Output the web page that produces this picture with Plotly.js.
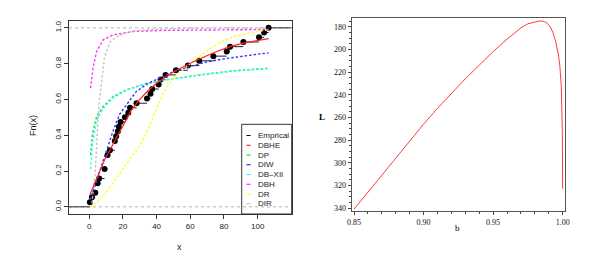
<!DOCTYPE html>
<html><head><meta charset="utf-8">
<script src="https://cdn.plot.ly/plotly-3.0.1.min.js"></script>
<style>html,body{margin:0;padding:0;background:#fff}#chart{width:603px;height:257px}</style>
</head><body><div id="chart"></div>
<script>
// ---- Left panel: empirical CDF and fitted CDFs ----
const ecdfX = [0.4,1.6,3.6,5.0,5.9,9.1,10.9,12.3,15.2,16.0,17.0,17.6,18.6,21.2,23.2,24.2,28.1,34.3,36.4,37.4,41.2,42.4,45.3,51.5,58.6,65.3,73.7,81.6,83.6,91.5,100.8,103.8,106.5];
const ecdfY = [0.026,0.053,0.079,0.132,0.158,0.211,0.289,0.316,0.368,0.395,0.421,0.447,0.474,0.5,0.526,0.553,0.579,0.605,0.632,0.658,0.684,0.711,0.737,0.763,0.789,0.816,0.842,0.868,0.895,0.921,0.947,0.974,1.0];

const dbheX = [0.4,3.6,6,9,12.4,16,20,25,30,35,40,45,50,58.6,65,75,83.5,91.5,100,106.5];
const dbheY = [0.067,0.14,0.2,0.26,0.318,0.385,0.45,0.54,0.6,0.65,0.69,0.725,0.755,0.795,0.825,0.865,0.895,0.915,0.93,0.94];

const dpX = [0.8,2,4.4,8.3,14.3,22.2,34,46,66,85.5,106.5];
const dpY = [0.29,0.41,0.505,0.56,0.616,0.654,0.69,0.71,0.737,0.76,0.774];

const diwX = [0.4,3.6,6.3,10.3,14,18.2,23.2,28,35,42,50,60,70,80,90,100,106.5];
const diwY = [0.04,0.12,0.2,0.318,0.42,0.52,0.585,0.645,0.69,0.72,0.755,0.785,0.81,0.827,0.842,0.853,0.86];

const dbxiiX = [0.8,2,4.4,8.3,14.3,22.2,34,46,66,85.5,106.5];
const dbxiiY = [0.21,0.36,0.48,0.55,0.61,0.652,0.688,0.71,0.738,0.758,0.773];

const dbhX = [0.8,2.4,4.4,8.3,14.3,26,46,66,86,106.5];
const dbhY = [0.663,0.784,0.868,0.933,0.961,0.98,0.986,0.989,0.99,0.991];

const drX = [0.4,2,5,10,17,22,27,32,36,40,44,50,58.6,65,72,78,85,95,106.5];
const drY = [0,0.005,0.03,0.08,0.17,0.24,0.3,0.374,0.458,0.55,0.64,0.72,0.79,0.84,0.885,0.92,0.948,0.972,0.99];

const dirX = [1.6,3.6,5,5.9,9.1,12.3,16,21,28,40,60,106.5];
const dirY = [0.02,0.2,0.45,0.58,0.84,0.92,0.95,0.97,0.985,0.993,0.998,1.0];

const legendLabels = ["Emprical","DBHE","DP","DIW","DB\u2013XII","DBH","DR","DIR"];
const legendColors = ["#000000","#ff0000","#00cd00","#0000ff","#00ffff","#ff00ff","#ffff00","#bebebe"];

const xTicksL = [0,20,40,60,80,100];
const yTicksL = [0.0,0.2,0.4,0.6,0.8,1.0];

// ---- Right panel: profile curve ----
const bX = [0.85,0.86,0.87,0.88,0.89,0.90,0.91,0.92,0.93,0.94,0.95,0.96,0.97,0.975,0.98,0.983,0.985,0.987,0.989,0.991,0.993,0.995,0.997,0.998,0.999,0.9995,0.9998,1.0];
const bL = [341,326,310,295,280,266,252,239,226,214,202,191,181,177.5,175.5,175,175,175.5,177,180,185,193,205,215,232,250,275,323];
const xTicksR = [0.85,0.90,0.95,1.00];
const yTicksR = [180,200,220,240,260,280,300,320,340];

// ---- geometry (pixels -> paper) ----
const W = 603, H = 257;
const px = v => v / W, py = v => 1 - v / H;
const xRangeL = [-12, 120.2], yRangeL = [-0.04, 1.04];

// step segments of the ECDF
const segX = [], segY = [];
segX.push(xRangeL[0], ecdfX[0], null); segY.push(0, 0, null);
for (let i = 0; i < ecdfX.length - 1; i++) {
  segX.push(ecdfX[i], ecdfX[i+1], null); segY.push(ecdfY[i], ecdfY[i], null);
}
segX.push(ecdfX[ecdfX.length-1], xRangeL[1]); segY.push(1, 1);

const dashed = c => ({color: c, width: 1.4, dash: '2.5px,2px'});
const traces = [
  {x: xRangeL, y: [0,0], mode:'lines', line:{color:'#b3b3b3', width:1, dash:'3px,3px'}, xaxis:'x', yaxis:'y', hoverinfo:'skip'},
  {x: xRangeL, y: [1,1], mode:'lines', line:{color:'#b3b3b3', width:1, dash:'3px,3px'}, xaxis:'x', yaxis:'y', hoverinfo:'skip'},
  {x: segX, y: segY, mode:'lines', line:{color:'#222', width:1}, xaxis:'x', yaxis:'y', connectgaps:false},
  {x: ecdfX, y: ecdfY, mode:'markers', marker:{color:'#000', size:6}, xaxis:'x', yaxis:'y'},
  {x: dpX, y: dpY, mode:'lines', line: dashed('#22d822'), xaxis:'x', yaxis:'y'},
  {x: dbxiiX, y: dbxiiY, mode:'lines', line: dashed('#33ffff'), xaxis:'x', yaxis:'y'},
  {x: dbhX, y: dbhY, mode:'lines', line: dashed('#ff33ff'), xaxis:'x', yaxis:'y'},
  {x: dirX, y: dirY, mode:'lines', line: dashed('#c4c4c4'), xaxis:'x', yaxis:'y'},
  {x: drX, y: drY, mode:'lines', line: dashed('#ffff22'), xaxis:'x', yaxis:'y'},
  {x: diwX, y: diwY, mode:'lines', line: dashed('#3333ff'), xaxis:'x', yaxis:'y'},
  {x: dbheX, y: dbheY, mode:'lines', line:{color:'#ff2222', width:1.2}, xaxis:'x', yaxis:'y'},
  {x: bX, y: bL, mode:'lines', line:{color:'#ff3c3c', width:1}, xaxis:'x2', yaxis:'y2'}
];

const fontL = {family:'Liberation Sans, Arial, sans-serif', size:8, color:'#222'};
const fontR = {family:'Liberation Serif, Times New Roman, serif', size:8, color:'#111'};

const annotations = [
  {text:'x', xref:'paper', yref:'paper', x:px(179), y:py(247), showarrow:false, font:{...fontL, size:9}, xanchor:'center', yanchor:'middle'},
  {text:'Fn(x)', xref:'paper', yref:'paper', x:px(33), y:py(126), showarrow:false, textangle:-90, font:{...fontL, size:9}, xanchor:'center', yanchor:'middle'},
  {text:'b', xref:'paper', yref:'paper', x:px(457), y:py(228), showarrow:false, font:{...fontR, size:9, color:'#000'}, xanchor:'center', yanchor:'middle'},
  {text:'<b>L</b>', xref:'paper', yref:'paper', x:px(322), y:py(117), showarrow:false, font:{...fontR, size:9, color:'#000'}, xanchor:'center', yanchor:'middle'}
];
const shapes = [
  {type:'rect', xref:'paper', yref:'paper', x0:px(241.7), x1:px(291.7), y0:py(214), y1:py(124.3), line:{color:'#333', width:1}, fillcolor:'rgba(0,0,0,0)'}
];
const legY0 = 135.5, legDY = 9.75;
legendLabels.forEach((lab, i) => {
  const yy = legY0 + i * legDY;
  annotations.push({text: lab, xref:'paper', yref:'paper', x:px(256), y:py(yy), showarrow:false, xanchor:'left', yanchor:'middle', font: fontL});
  shapes.push({type:'line', xref:'paper', yref:'paper', x0:px(246.5), x1:px(250.5), y0:py(yy), y1:py(yy), line:{color:legendColors[i], width:1}});
});

const layout = {
  width: W, height: H, margin:{l:0,r:0,t:0,b:0}, showlegend:false,
  paper_bgcolor:'#fff', plot_bgcolor:'#fff',
  xaxis: {domain:[px(69), px(291.7)], range:xRangeL, tickvals:xTicksL, ticks:'outside', ticklen:4, tickcolor:'#333',
          showline:true, mirror:true, linecolor:'#333', linewidth:1, showgrid:false, zeroline:false, tickfont:fontL, anchor:'y'},
  yaxis: {domain:[py(214), py(20.7)], range:yRangeL, tickvals:yTicksL, tickformat:'.1f', tickangle:-90, ticks:'outside', ticklen:4, tickcolor:'#333',
          showline:true, mirror:true, linecolor:'#333', linewidth:1, showgrid:false, zeroline:false, tickfont:fontL, anchor:'x'},
  xaxis2: {domain:[px(351.7), px(565)], range:[0.8483, 1.0017], tickvals:xTicksR, tickformat:'.2f', ticks:'outside', ticklen:3, tickcolor:'#444',
           minor:{dtick:0.01, ticks:'outside', ticklen:2, tickcolor:'#444'},
           showline:true, mirror:true, linecolor:'#555', linewidth:1, showgrid:false, zeroline:false, tickfont:fontR, anchor:'y2'},
  yaxis2: {domain:[py(211), py(18.3)], range:[342.6, 172.6], tickvals:yTicksR, ticks:'outside', ticklen:3, tickcolor:'#444',
           minor:{dtick:5, ticks:'outside', ticklen:2, tickcolor:'#444'},
           showline:true, mirror:true, linecolor:'#555', linewidth:1, showgrid:false, zeroline:false, tickfont:fontR, anchor:'x2'},
  annotations: annotations, shapes: shapes
};
Plotly.newPlot('chart', traces, layout, {displayModeBar:false, staticPlot:true});
</script>
</body></html>
